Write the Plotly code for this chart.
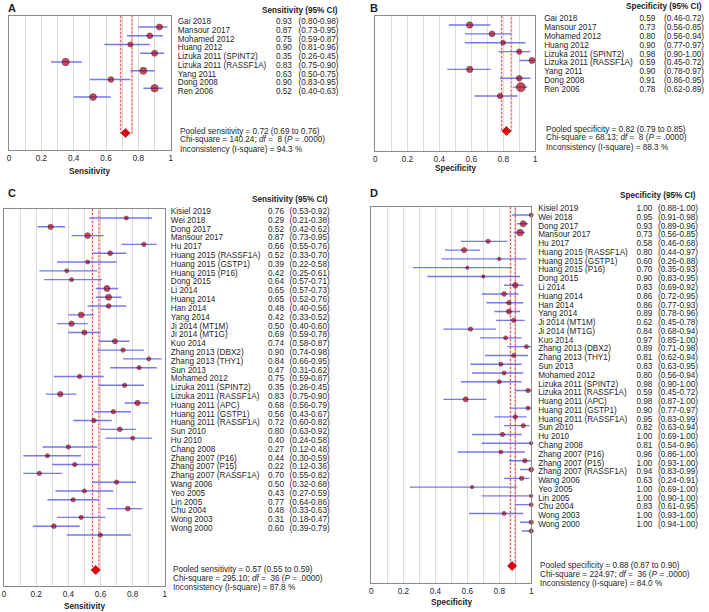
import plotly.graph_objects as go

W, H = 709, 612

# ---------------- data ----------------
studies_ab = ["Gai 2018", "Mansour 2017", "Mohamed 2012", "Huang 2012",
              "Lizuka 2011 (SPINT2)", "Lizuka 2011 (RASSF1A)", "Yang 2011",
              "Dong 2008", "Ren 2006"]
sens_a = [0.93, 0.87, 0.75, 0.90, 0.35, 0.83, 0.63, 0.90, 0.52]
sens_a_lo = [0.80, 0.73, 0.59, 0.81, 0.26, 0.75, 0.50, 0.83, 0.40]
sens_a_hi = [0.98, 0.95, 0.87, 0.96, 0.45, 0.90, 0.75, 0.95, 0.63]
weight_a = [6.0, 5.7, 5.0, 6.0, 7.3, 7.0, 5.7, 7.3, 6.7]

spec_b = [0.59, 0.73, 0.80, 0.90, 0.98, 0.59, 0.90, 0.91, 0.78]
spec_b_lo = [0.46, 0.56, 0.56, 0.77, 0.90, 0.45, 0.78, 0.86, 0.62]
spec_b_hi = [0.72, 0.85, 0.94, 0.97, 1.00, 0.72, 0.97, 0.95, 0.89]
weight_b = [6.3, 5.7, 4.7, 5.3, 6.0, 6.3, 5.7, 9.0, 5.3]

studies_cd = ["Kisiel 2019", "Wei 2018", "Dong 2017", "Mansour 2017", "Hu 2017",
              "Huang 2015 (RASSF1A)", "Huang 2015 (GSTP1)", "Huang 2015 (P16)",
              "Dong 2015", "Li 2014", "Huang 2014", "Han 2014", "Yang 2014",
              "Ji 2014 (MT1M)", "Ji 2014 (MT1G)", "Kuo 2014", "Zhang 2013 (DBX2)",
              "Zhang 2013 (THY1)", "Sun 2013", "Mohamed 2012", "Lizuka 2011 (SPINT2)",
              "Lizuka 2011 (RASSF1A)", "Huang 2011 (APC)", "Huang 2011 (GSTP1)",
              "Huang 2011 (RASSF1A)", "Sun 2010", "Hu 2010", "Chang 2008",
              "Zhang 2007 (P16)", "Zhang 2007 (P15)", "Zhang 2007 (RASSF1A)",
              "Wang 2006", "Yeo 2005", "Lin 2005", "Chu 2004", "Wong 2003", "Wong 2000"]
sens_c = [0.76, 0.29, 0.52, 0.87, 0.66, 0.52, 0.39, 0.42, 0.64, 0.65, 0.65, 0.48, 0.42,
          0.50, 0.69, 0.74, 0.90, 0.84, 0.47, 0.75, 0.35, 0.83, 0.68, 0.56, 0.72, 0.80,
          0.40, 0.27, 0.44, 0.22, 0.70, 0.50, 0.43, 0.77, 0.48, 0.31, 0.60]
sens_c_lo = [0.53, 0.21, 0.42, 0.73, 0.55, 0.33, 0.22, 0.25, 0.57, 0.57, 0.52, 0.40, 0.33,
             0.40, 0.59, 0.58, 0.74, 0.66, 0.31, 0.59, 0.26, 0.75, 0.56, 0.43, 0.60, 0.63,
             0.24, 0.12, 0.30, 0.12, 0.55, 0.32, 0.27, 0.64, 0.33, 0.18, 0.39]
sens_c_hi = [0.92, 0.38, 0.62, 0.95, 0.76, 0.70, 0.58, 0.61, 0.71, 0.73, 0.76, 0.56, 0.52,
             0.60, 0.78, 0.87, 0.98, 0.95, 0.62, 0.87, 0.45, 0.90, 0.79, 0.67, 0.82, 0.92,
             0.58, 0.48, 0.59, 0.36, 0.82, 0.68, 0.59, 0.86, 0.63, 0.47, 0.79]
weight_c = [4.0, 5.3, 5.7, 4.3, 4.7, 4.0, 4.0, 4.0, 6.0, 6.0, 4.7, 5.7, 5.3, 5.0, 5.0,
            4.3, 4.0, 4.3, 4.3, 4.3, 5.3, 5.3, 4.3, 4.3, 4.7, 4.0, 4.3, 4.0, 4.3, 4.3,
            4.3, 4.0, 4.3, 4.7, 4.3, 4.7, 4.0]

spec_d = [1.00, 0.95, 0.93, 0.73, 0.58, 0.80, 0.60, 0.70, 0.90, 0.83, 0.86, 0.86, 0.89,
          0.62, 0.84, 0.97, 0.89, 0.81, 0.83, 0.80, 0.98, 0.59, 0.98, 0.90, 0.95, 0.82,
          1.00, 0.81, 0.96, 1.00, 0.94, 0.63, 1.00, 1.00, 0.83, 1.00, 1.00]
spec_d_lo = [0.88, 0.91, 0.89, 0.56, 0.46, 0.44, 0.26, 0.35, 0.83, 0.69, 0.72, 0.77, 0.78,
             0.45, 0.68, 0.85, 0.71, 0.62, 0.63, 0.56, 0.90, 0.45, 0.87, 0.77, 0.83, 0.63,
             0.69, 0.54, 0.86, 0.93, 0.83, 0.24, 0.69, 0.90, 0.61, 0.93, 0.94]
spec_d_hi = [1.00, 0.98, 0.96, 0.85, 0.68, 0.97, 0.88, 0.93, 0.95, 0.92, 0.95, 0.93, 0.96,
             0.78, 0.94, 1.00, 0.98, 0.94, 0.95, 0.94, 1.00, 0.72, 1.00, 0.97, 0.99, 0.94,
             1.00, 0.96, 1.00, 1.00, 0.99, 0.91, 1.00, 1.00, 0.95, 1.00, 1.00]
weight_d = [4.0, 6.0, 6.7, 4.3, 5.0, 3.3, 3.3, 3.3, 5.3, 4.7, 4.3, 5.0, 4.3, 4.3, 4.0,
            4.0, 4.0, 4.0, 4.0, 4.0, 4.3, 5.0, 4.0, 4.3, 4.3, 4.3, 3.3, 3.7, 4.3, 4.7,
            4.3, 3.3, 3.3, 4.0, 4.0, 4.3, 4.3]

pooled_a = (0.72, 0.69, 0.76)
pooled_b = (0.82, 0.79, 0.85)
pooled_c = (0.57, 0.55, 0.59)
pooled_d = (0.88, 0.87, 0.90)

stats_a = ("Pooled sensitivity = 0.72 (0.69 to 0.76)",
           "Chi-square = 140.24; <i>df</i> =  8 (<i>P</i> = .0000)",
           "Inconsistency (I-square) = 94.3 %")
stats_b = ("Pooled specificity = 0.82 (0.79 to 0.85)",
           "Chi-square = 68.13; <i>df</i> =  8 (<i>P</i> = .0000)",
           "Inconsistency (I-square) = 88.3 %")
stats_c = ("Pooled sensitivity = 0.57 (0.55 to 0.59)",
           "Chi-square = 295.10; <i>df</i> =  36 (<i>P</i> = .0000)",
           "Inconsistency (I-square) = 87.8 %")
stats_d = ("Pooled specificity = 0.88 (0.87 to 0.90)",
           "Chi-square = 224.97; <i>df</i> =  36 (<i>P</i> = .0000)",
           "Inconsistency (I-square) = 84.0 %")

tick_vals = [0, 0.1, 0.2, 0.3, 0.4, 0.5, 0.6, 0.7, 0.8, 0.9, 1.0]
tick_text = ["0", "", "0.2", "", "0.4", "", "0.6", "", "0.8", "", "1"]

# ---------------- layout (pixels) ----------------
panels = [
    dict(letter="A", studies=studies_ab, val=sens_a, lo=sens_a_lo, hi=sens_a_hi, w=weight_a,
         pooled=pooled_a, stats=stats_a, header="Sensitivity (95% CI)", title="Sensitivity",
         box=(7, 170, 16, 150), dot0=27, step=8.75, lab_off=-5, pooled_px=133,
         stat_px=(131, 140, 149), header_y=10, header_r=340, name_x=177, val_r=292,
         ci_r=339, letter_xy=(10, 8), title_y=171, right=354),
    dict(letter="B", studies=studies_ab, val=spec_b, lo=spec_b_lo, hi=spec_b_hi, w=weight_b,
         pooled=pooled_b, stats=stats_b, header="Specificity (95% CI)", title="Specificity",
         box=(376, 537, 16, 151), dot0=25, step=8.875, lab_off=-6, pooled_px=131,
         stat_px=(129, 138, 147), header_y=7, header_r=707, name_x=546, val_r=658,
         ci_r=707, letter_xy=(375, 8), title_y=168, right=709),
    dict(letter="C", studies=studies_cd, val=sens_c, lo=sens_c_lo, hi=sens_c_hi, w=weight_c,
         pooled=pooled_c, stats=stats_c, header="Sensitivity (95% CI)", title="Sensitivity",
         box=(2, 164, 209, 586), dot0=218, step=8.806, lab_off=-6, pooled_px=570,
         stat_px=(569, 578, 587), header_y=200, header_r=330, name_x=170, val_r=284,
         ci_r=330, letter_xy=(10, 193), title_y=606, right=354),
    dict(letter="D", studies=studies_cd, val=spec_d, lo=spec_d_lo, hi=spec_d_hi, w=weight_d,
         pooled=pooled_d, stats=stats_d, header="Specificity (95% CI)", title="Specificity",
         box=(372, 533, 207, 583), dot0=215, step=8.778, lab_off=-6, pooled_px=566,
         stat_px=(565, 574, 583), header_y=196, header_r=701, name_x=540, val_r=655,
         ci_r=701, letter_xy=(375, 193), title_y=602, right=709),
]

FONT = "Liberation Sans, Arial, sans-serif"
FS = 8.2
TXT = "#1e1e1e"
BORDER = "#8a8a8a"
GRID = "#dcdcdc"
CI_COL = "rgba(95,95,235,0.85)"
DOT_FILL = "#a80019"
DOT_LINE = "#4a000c"

fig = go.Figure()
annotations = []
shapes = []


def px_x(p):
    return p / W


def px_y(p):
    return 1 - p / H


def ann(x, y, text, xanchor="left", size=FS, bold=False):
    annotations.append(dict(
        x=px_x(x), y=px_y(y), xref="paper", yref="paper", text=f"<b>{text}</b>" if bold else text,
        showarrow=False, xanchor=xanchor, yanchor="middle",
        font=dict(family=FONT, size=size, color=TXT)))


layout_axes = {}
for k, p in enumerate(panels):
    l, r, t, b = p["box"]
    xa = f"x{2 * k + 1}"
    xt = f"x{2 * k + 2}"
    ya = f"y{k + 1}"
    step, dot0 = p["step"], p["dot0"]
    n = len(p["studies"])
    rows = list(range(n))
    y_top = (t - dot0) / step
    y_bot = (b - dot0) / step
    pooled_row = (p["pooled_px"] - dot0) / step

    layout_axes[f"xaxis{2 * k + 1}"] = dict(
        domain=[px_x(l), px_x(r)], range=[0, 1], anchor=ya,
        tickmode="array", tickvals=tick_vals, ticktext=tick_text,
        showgrid=True, gridcolor=GRID, gridwidth=1, zeroline=False,
        showline=True, mirror=True, linecolor=BORDER, linewidth=1, ticks="",
        tickfont=dict(family=FONT, size=FS, color=TXT), fixedrange=True)
    layout_axes[f"xaxis{2 * k + 2}"] = dict(
        domain=[px_x(r), px_x(p["right"])], range=[r, p["right"]], anchor=ya,
        visible=False, fixedrange=True)
    layout_axes[f"yaxis{k + 1}"] = dict(
        domain=[px_y(b), px_y(t)], range=[y_bot, y_top], anchor=xa,
        showgrid=False, zeroline=False, showticklabels=False, ticks="",
        showline=True, mirror=True, linecolor=BORDER, linewidth=1, fixedrange=True)

    # pooled CI band (dashed red rectangle from top down to pooled estimate)
    _, plo, phi = p["pooled"]
    band_path = f"M {plo} {y_top} L {plo} {pooled_row} L {phi} {pooled_row} L {phi} {y_top}"
    shapes.append(dict(type="path", path=band_path, xref=xa, yref=ya, layer="between",
                       line=dict(color="rgba(240,130,130,0.30)", width=2.2)))
    shapes.append(dict(type="path", path=band_path, xref=xa, yref=ya, layer="between",
                       line=dict(color="#e03030", width=0.8, dash="2px,2px")))

    # study estimates with CIs
    fig.add_trace(go.Scatter(
        x=p["val"], y=rows, mode="markers", xaxis=xa, yaxis=ya, cliponaxis=False,
        marker=dict(size=p["w"], color=DOT_FILL, line=dict(color=DOT_LINE, width=0.8)),
        error_x=dict(type="data", symmetric=False,
                     array=[h - v for h, v in zip(p["hi"], p["val"])],
                     arrayminus=[v - lo for v, lo in zip(p["val"], p["lo"])],
                     color=CI_COL, thickness=1.4, width=0),
        hoverinfo="skip", showlegend=False))

    # pooled estimate
    fig.add_trace(go.Scatter(
        x=[p["pooled"][0]], y=[pooled_row], mode="markers", xaxis=xa, yaxis=ya,
        cliponaxis=False,
        marker=dict(symbol="diamond", size=7, color="#e3000f",
                    line=dict(color="#8a0000", width=0.6)),
        hoverinfo="skip", showlegend=False))

    # study labels / values / CI text
    text_rows = [i + p["lab_off"] / step for i in rows]
    tf = dict(family=FONT, size=FS, color=TXT)
    fig.add_trace(go.Scatter(
        x=[p["name_x"]] * n, y=text_rows, text=p["studies"], mode="text",
        textposition="middle right", textfont=tf, xaxis=xt, yaxis=ya,
        cliponaxis=False, hoverinfo="skip", showlegend=False))
    fig.add_trace(go.Scatter(
        x=[p["val_r"]] * n, y=text_rows, text=[f"{v:.2f}" for v in p["val"]], mode="text",
        textposition="middle left", textfont=tf, xaxis=xt, yaxis=ya,
        cliponaxis=False, hoverinfo="skip", showlegend=False))
    fig.add_trace(go.Scatter(
        x=[p["ci_r"]] * n, y=text_rows,
        text=[f"({lo:.2f}-{hi:.2f})" for lo, hi in zip(p["lo"], p["hi"])], mode="text",
        textposition="middle left", textfont=tf, xaxis=xt, yaxis=ya,
        cliponaxis=False, hoverinfo="skip", showlegend=False))

    # headers, letters, axis titles, pooled statistics
    ann(p["header_r"], p["header_y"], p["header"], xanchor="right", bold=True)
    ann(p["letter_xy"][0], p["letter_xy"][1], p["letter"], xanchor="center", size=11, bold=True)
    ann((l + r) / 2, p["title_y"], p["title"], xanchor="center", bold=True)
    for s, yy in zip(p["stats"], p["stat_px"]):
        ann(p["name_x"], yy, s)

fig.update_layout(
    width=W, height=H, margin=dict(l=0, r=0, t=0, b=0),
    paper_bgcolor="white", plot_bgcolor="rgba(0,0,0,0)",
    showlegend=False, annotations=annotations, shapes=shapes,
    font=dict(family=FONT, size=FS, color=TXT),
    **layout_axes)

fig.write_html(
    "out.html",
    config={"displayModeBar": False},
    post_script="document.body.style.margin='0';document.body.style.padding='0';"
                "document.body.style.overflow='hidden';")
